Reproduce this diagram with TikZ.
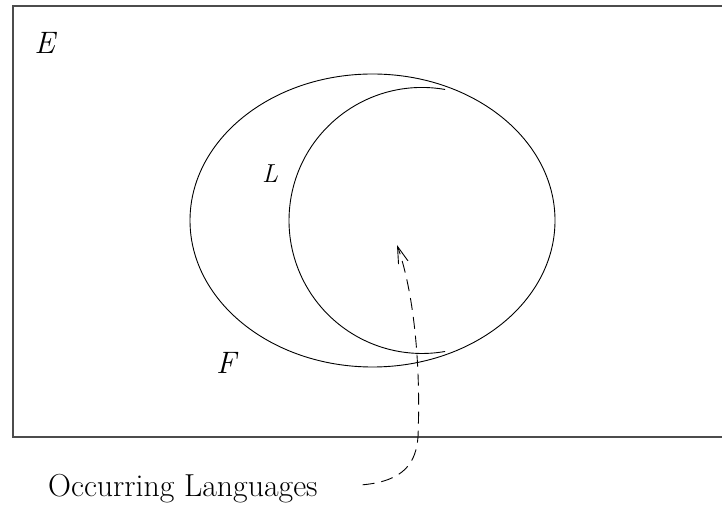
\documentclass[tikz,border=0pt]{standalone}
\usepackage{fontspec}
\usetikzlibrary{arrows.meta,positioning}
\tikzset{
  univbox/.style ={draw=black!70,line width=1.6pt},
  setline/.style ={draw,line width=0.9pt},
  setname/.style ={font=\fontsize{31}{36}\selectfont\itshape,inner sep=0pt},
  caption/.style ={font=\fontsize{31.8}{36}\selectfont,inner sep=0pt},
  flow/.style    ={-{Straight Barb[length=17pt,width=10pt]},line width=0.9pt,
                   dash pattern=on 12pt off 7pt},
}
\begin{document}
\begin{tikzpicture}[x=1pt,y=1pt]
  \clip (0,0) rectangle (722,508);
  % universe and the two sets
  \draw[univbox] (13,71) rectangle (740,502);
  \draw[setline] (372.5,287.5) ellipse [x radius=182.5pt,y radius=146.5pt];
  \draw[setline] (445.1,418.5) arc [start angle=80,end angle=280,radius=133pt];
  \node[setname] (e) at (44.7,465.5) {E};
  \node[setname,font=\fontsize{26}{30}\selectfont\itshape] (l) at (270,334) {L};
  \node[setname] (f) at (226,145.5) {F};
  \node[caption,anchor=base west] (occ) at (48,11.3) {Occurring Languages};
  \coordinate (occ-target) at (397,263);
  \draw[flow,shorten <=45pt] (occ.east) .. controls (405,27) and (416,46) .. (418,71)
    .. controls (421,148) and (413,218) .. (occ-target);
\end{tikzpicture}
\end{document}
